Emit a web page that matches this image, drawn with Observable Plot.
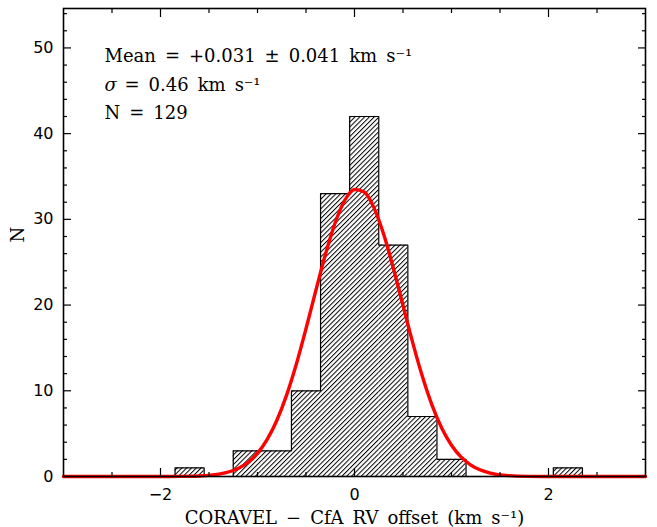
<!DOCTYPE html>
<html>
<head>
<meta charset="utf-8">
<script src="https://cdn.jsdelivr.net/npm/d3@7"></script>
<script src="https://cdn.jsdelivr.net/npm/@observablehq/plot@0.6"></script>
<style>
  html, body { margin: 0; padding: 0; background: #fff; }
  #chart svg { display: block; }
</style>
</head>
<body>
<div id="chart"></div>
<script>
// Histogram bins (km/s) and counts
const binStart = [-1.85, -1.25, -0.95, -0.65, -0.35, -0.05, 0.25, 0.55, 0.85, 2.05];
const binEnd   = [-1.55, -0.95, -0.65, -0.35, -0.05, 0.25, 0.55, 0.85, 1.15, 2.35];
const counts   = [1, 3, 3, 10, 33, 42, 27, 7, 2, 1];

// Gaussian fit curve
const fitX = [-3, -2.4, -2.0, -1.8, -1.6, -1.4, -1.2, -1.1, -1.0, -0.9, -0.8, -0.7, -0.6, -0.5, -0.4, -0.3, -0.2, -0.1, 0.0, 0.1, 0.2, 0.3, 0.4, 0.5, 0.6, 0.7, 0.8, 0.9, 1.0, 1.1, 1.2, 1.4, 1.6, 1.8, 2.0, 2.4, 3];
const fitY = [0, 0, 0, 0.01, 0.06, 0.27, 0.93, 1.63, 2.72, 4.33, 6.56, 9.49, 13.09, 17.24, 21.64, 25.90, 29.58, 32.23, 33.48, 33.18, 31.37, 28.29, 24.33, 19.96, 15.62, 11.66, 8.30, 5.63, 3.65, 2.26, 1.33, 0.40, 0.10, 0.02, 0, 0, 0];

// Axis ticks
const xMajor = [-2, 0, 2];
const xMinor = [-2.5, -1.5, -1, -0.5, 0.5, 1, 1.5, 2.5];
const yMajor = [0, 10, 20, 30, 40, 50];
const yMinor = [2, 4, 6, 8, 12, 14, 16, 18, 22, 24, 26, 28, 32, 34, 36, 38, 42, 44, 46, 48, 52, 54];

// Texts (en spaces keep the wide spacing of the original)
const S = "\u2002";
const xLabel = ["CORAVEL", "−", "CfA", "RV", "offset", "(km", "s⁻¹)"].join(S);
const yLabel = "N";
const meanLine = ["Mean", "=", "+0.031", "±", "0.041", "km", "s⁻¹"].join(S);
const sigmaSym = "σ";
const sigmaLine = S + ["=", "0.46", "km", "s⁻¹"].join(S);
const nLine = ["N", "=", "129"].join(S);

const bins = binStart.map((s, i) => ({x1: s, x2: binEnd[i], y: counts[i]}));
const fit = fitX.map((x, i) => ({x, y: fitY[i]}));

// Step outline of the histogram (no internal lines), grouped by contiguous runs
const outline = [];
let group = 0;
bins.forEach((b, i) => {
  const prev = bins[i - 1];
  const next = bins[i + 1];
  if (!prev || Math.abs(prev.x2 - b.x1) > 1e-9) {
    group++;
    outline.push({x: b.x1, y: 0, g: group});
  }
  outline.push({x: b.x1, y: b.y, g: group});
  outline.push({x: b.x2, y: b.y, g: group});
  if (!next || Math.abs(next.x1 - b.x2) > 1e-9) {
    outline.push({x: b.x2, y: 0, g: group});
  }
});

const serif = "DejaVu Serif";
const sans = "DejaVu Sans";
const blank = () => "";
const fmt = d => String(d).replace("-", "−");

const chart = Plot.plot({
  width: 657,
  height: 527,
  marginLeft: 63,
  marginRight: 12,
  marginTop: 8,
  marginBottom: 51,
  style: {fontFamily: sans, fontSize: "16px", background: "#fff", color: "#000"},
  x: {domain: [-3, 3]},
  y: {domain: [0, 54.6]},
  marks: [
    Plot.rectY(bins, {x1: "x1", x2: "x2", y: "y", fill: "url(#hatch)"}),
    Plot.line(outline, {x: "x", y: "y", z: "g", stroke: "#000", strokeWidth: 1.2, curve: "linear"}),
    Plot.line(fit, {x: "x", y: "y", stroke: "#ff0000", strokeWidth: 3.4, curve: "monotone-x"}),
    Plot.frame({stroke: "#000", strokeWidth: 1.6}),
    // bottom x axis
    Plot.axisX({anchor: "bottom", ticks: xMajor, tickSize: -8, tickPadding: 20, tickFormat: fmt, label: null, fontSize: 16, strokeWidth: 1.2}),
    Plot.axisX({anchor: "bottom", ticks: xMinor, tickSize: -4, tickFormat: blank, label: null, strokeWidth: 1.2}),
    // top x axis
    Plot.axisX({anchor: "top", ticks: xMajor, tickSize: -8, tickFormat: blank, label: null, strokeWidth: 1.2}),
    Plot.axisX({anchor: "top", ticks: xMinor, tickSize: -4, tickFormat: blank, label: null, strokeWidth: 1.2}),
    // left y axis
    Plot.axisY({anchor: "left", ticks: yMajor, tickSize: -8, tickPadding: 18, tickFormat: fmt, label: null, fontSize: 16, strokeWidth: 1.2}),
    Plot.axisY({anchor: "left", ticks: yMinor, tickSize: -4, tickFormat: blank, label: null, strokeWidth: 1.2}),
    // right y axis
    Plot.axisY({anchor: "right", ticks: yMajor, tickSize: -8, tickFormat: blank, label: null, strokeWidth: 1.2}),
    Plot.axisY({anchor: "right", ticks: yMinor, tickSize: -4, tickFormat: blank, label: null, strokeWidth: 1.2}),
    // axis labels
    Plot.text([xLabel], {frameAnchor: "bottom", dy: 47, lineAnchor: "bottom", fontFamily: serif, fontSize: 18, fill: "#000"}),
    Plot.text([yLabel], {frameAnchor: "left", dx: -45, rotate: -90, fontFamily: serif, fontSize: 18, fill: "#000"}),
    // statistics
    Plot.text([meanLine], {frameAnchor: "top-left", dx: 41, dy: 41, textAnchor: "start", fontFamily: serif, fontSize: 18, fill: "#000"}),
    Plot.text([sigmaSym], {frameAnchor: "top-left", dx: 41, dy: 70, textAnchor: "start", fontFamily: serif, fontStyle: "italic", fontSize: 18, fill: "#000"}),
    Plot.text([sigmaLine], {frameAnchor: "top-left", dx: 52, dy: 70, textAnchor: "start", fontFamily: serif, fontSize: 18, fill: "#000"}),
    Plot.text([nLine], {frameAnchor: "top-left", dx: 41, dy: 98, textAnchor: "start", fontFamily: serif, fontSize: 18, fill: "#000"})
  ]
});

// hatch pattern
const ns = "http://www.w3.org/2000/svg";
const defs = document.createElementNS(ns, "defs");
const pat = document.createElementNS(ns, "pattern");
pat.setAttribute("id", "hatch");
pat.setAttribute("patternUnits", "userSpaceOnUse");
pat.setAttribute("width", "3.4");
pat.setAttribute("height", "3.4");
pat.setAttribute("patternTransform", "rotate(45)");
const bg = document.createElementNS(ns, "rect");
bg.setAttribute("width", "3.4");
bg.setAttribute("height", "3.4");
bg.setAttribute("fill", "#fff");
const ln = document.createElementNS(ns, "line");
ln.setAttribute("x1", "0.5"); ln.setAttribute("y1", "0");
ln.setAttribute("x2", "0.5"); ln.setAttribute("y2", "3.4");
ln.setAttribute("stroke", "#000");
ln.setAttribute("stroke-width", "1");
pat.appendChild(bg);
pat.appendChild(ln);
defs.appendChild(pat);
chart.insertBefore(defs, chart.firstChild);

document.getElementById("chart").appendChild(chart);
</script>
</body>
</html>
